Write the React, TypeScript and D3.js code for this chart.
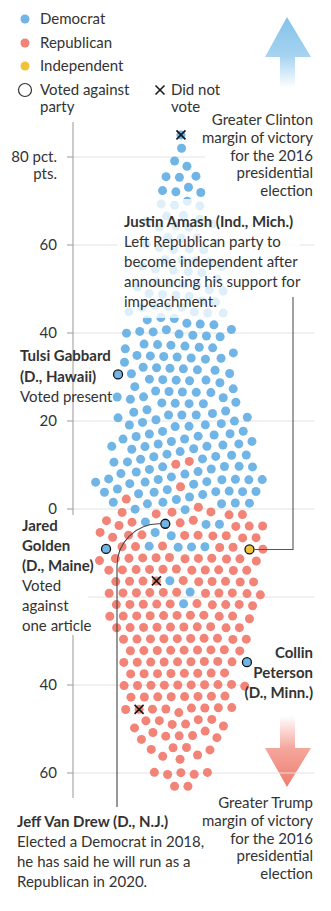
import React, { useMemo } from "react";
import * as d3 from "d3";

// ---- Data (margin in pct. pts.; + = Clinton, - = Trump) ----
const demLevels = [82, 79, 77.5, 75.5, 73, 71.7, 69.5, 65, 60, 55, 50, 45, 40, 35, 30, 25, 20, 15, 10, 5, 2, 0.7, -1.8, -3.5, -8, -16, -20.5];
const demCounts = [1, 1, 1, 3, 1, 3, 4, 8, 9, 10, 12, 12, 13, 15, 15, 16, 17, 18, 18, 21, 6, 6, 4, 3, 4, 2, 1];

const repLevels = [9.8, 7.7, 3.4, -0.7, -2, -5, -10, -15, -20, -25, -30, -35, -40, -45, -50, -55, -60, -63];
const repCounts = [1, 1, 1, 5, 6, 17, 16, 20, 21, 21, 19, 17, 18, 12, 11, 7, 5, 2];

// Named members: party, margin, status, and which side of the swarm they sit on
const specialNames = ["Serrano", "Gabbard", "Golden", "VanDrew", "Peterson", "Amash", "Hunter", "Shimkus"];
const specialParty = ["D", "D", "D", "D", "D", "I", "R", "R"];
const specialMargin = [85, 31, -8.6, -2.5, -33, -8, -17, -44.5];
const specialStatus = ["absent", "against", "against", "against", "against", "against", "absent", "absent"];
const specialSide = [0, -1, -0.9, 0.1, 1, 0.65, -0.25, -0.6];

const tickValues = [80, 60, 40, 20, 0, -20, -40, -60];
// the -20 label sits under Golden's note in the original
const hiddenTickLabels = [-20];

const COLORS: Record<string, string> = { D: "#70b5e6", R: "#f28377", I: "#f0c23a" };
const FONT = "Lato, 'Noto Sans', sans-serif";
const TXT = "#333";
const FS = 15;

type Node = {
  party: string;
  margin: number;
  status?: string;
  name?: string;
  x: number;
  y: number;
};

const W = 331;
const H = 911;
const CX = 181;
const R = 4.5;

export default function App() {
  const y = d3.scaleLinear().domain([80, -60]).range([157, 773]);

  const nodes = useMemo(() => {
    const list: Node[] = [];
    const addGroup = (party: string, level: number, n: number) => {
      const sp = Math.min(13, 172 / n);
      for (let j = 0; j < n; j++) {
        list.push({
          party,
          margin: level,
          x: CX + (j - (n - 1) / 2) * sp,
          y: y(level) + (j % 2 ? 3 : -3),
        });
      }
    };
    demLevels.forEach((l, i) => addGroup("D", l, demCounts[i]));
    repLevels.forEach((l, i) => addGroup("R", l, repCounts[i]));
    specialNames.forEach((nm, i) => {
      list.push({
        party: specialParty[i],
        margin: specialMargin[i],
        status: specialStatus[i],
        name: nm,
        x: CX + specialSide[i] * 90,
        y: y(specialMargin[i]),
      });
    });
    const sim = d3
      .forceSimulation(list as any)
      .force("y", d3.forceY((d: any) => y(d.margin)).strength(0.1))
      .force("x", d3.forceX(CX).strength(0.013))
      .force("c", d3.forceCollide(6.7).strength(0.8).iterations(2))
      .stop();
    for (let i = 0; i < 400; i++) sim.tick();
    return list;
  }, []);

  const find = (nm: string) => nodes.find((n) => n.name === nm)!;
  const vd = find("VanDrew");
  const am = find("Amash");
  const rArc = 42;
  const vdX = 117;

  const X = ({ x, y: yy, s = 4.5, w = 1.7 }: { x: number; y: number; s?: number; w?: number }) => (
    <g stroke="#1a1a1a" strokeWidth={w}>
      <line x1={x - s} y1={yy - s} x2={x + s} y2={yy + s} />
      <line x1={x - s} y1={yy + s} x2={x + s} y2={yy - s} />
    </g>
  );

  const lines = (arr: string[], x: number, y0: number, dy: number, anchor: string, boldN = 0, size = FS) =>
    arr.map((t, i) => (
      <text
        key={i}
        x={x}
        y={y0 + i * dy}
        textAnchor={anchor as any}
        fontWeight={i < boldN ? 700 : 400}
        fontSize={size}
        fill={TXT}
        fontFamily={FONT}
      >
        {t}
      </text>
    ));

  return (
    <svg width={W} height={H} style={{ position: "absolute", left: 0, top: 0, background: "#fff" }}>
      <defs>
        <linearGradient id="gUp" x1="0" y1="0" x2="0" y2="1">
          <stop offset="0" stopColor="#84c2ea" />
          <stop offset="0.55" stopColor="#a6d3f1" />
          <stop offset="1" stopColor="#ffffff" />
        </linearGradient>
        <linearGradient id="gDown" x1="0" y1="0" x2="0" y2="1">
          <stop offset="0" stopColor="#ffffff" />
          <stop offset="0.45" stopColor="#f5a79d" />
          <stop offset="1" stopColor="#ef7c6d" />
        </linearGradient>
      </defs>

      {/* Legend */}
      <g fontFamily={FONT} fontSize={FS} fill={TXT}>
        <circle cx={25} cy={19} r={4.5} fill={COLORS.D} />
        <text x={40} y={24}>Democrat</text>
        <circle cx={25} cy={43} r={4.5} fill={COLORS.R} />
        <text x={40} y={48}>Republican</text>
        <circle cx={25} cy={66} r={4.5} fill={COLORS.I} />
        <text x={40} y={71}>Independent</text>
        <circle cx={25} cy={90} r={6.5} fill="none" stroke="#333" strokeWidth={1.2} />
        <text x={40} y={95}>Voted against</text>
        <text x={40} y={112}>party</text>
        <X x={160} y={90} s={4.5} w={1.6} />
        <text x={171} y={95}>Did not</text>
        <text x={171} y={112}>vote</text>
      </g>

      {/* Arrows */}
      <path d="M287,17 L311,57 L295,57 L295,88 L280,88 L280,57 L265,57 Z" fill="url(#gUp)" />
      <path d="M280,716 L295,716 L295,748 L311,748 L287,787 L265,748 L280,748 Z" fill="url(#gDown)" />

      {/* Grid + axis */}
      {tickValues.map((t) => (
        <g key={t}>
          <line x1={73} x2={315} y1={y(t)} y2={y(t)} stroke="#e2e2e2" strokeWidth={1} />
          <line x1={67} x2={73} y1={y(t)} y2={y(t)} stroke="#999" strokeWidth={1} />
          {!hiddenTickLabels.includes(t) && (
            <text x={57} y={y(t) + 5} textAnchor="end" fontFamily={FONT} fontSize={FS} fill={TXT}>
              {t === 80 ? "80 pct." : String(Math.abs(t))}
            </text>
          )}
        </g>
      ))}
      <text x={57} y={179} textAnchor="end" fontFamily={FONT} fontSize={FS} fill={TXT}>
        pts.
      </text>
      <line x1={73} x2={73} y1={122} y2={798} stroke="#999" strokeWidth={1} />

      {/* Text boxes covering gridlines */}
      <rect x={205} y={110} width={113} height={90} fill="#fff" />
      <rect x={18} y={515} width={70} height={120} fill="#fff" />
      <rect x={246} y={643} width={72} height={57} fill="#fff" />

      {/* Dots */}
      {nodes.map((n, i) => (
        <circle
          key={i}
          cx={n.x}
          cy={n.y}
          r={R}
          fill={COLORS[n.party]}
          stroke={n.status === "against" ? "#111" : "none"}
          strokeWidth={1.3}
        />
      ))}
      {nodes
        .filter((n) => n.status === "absent")
        .map((n, i) => (
          <X key={"x" + i} x={n.x} y={n.y} />
        ))}

      {/* Amash box fades dots behind */}
      <rect x={117} y={199} width={183} height={119} fill="#fff" opacity={0.78} />

      {/* Leader lines */}
      <path
        d={`M${vdX},807 V${vd.y + rArc} A${rArc},${rArc} 0 0 1 ${vdX + rArc},${vd.y} H${vd.x - R - 0.5}`}
        fill="none"
        stroke="#444"
        strokeWidth={1.1}
      />
      <path d={`M${am.x + R + 0.5},${am.y} H293 V297`} fill="none" stroke="#555" strokeWidth={1.1} />

      {/* Annotations */}
      {lines(["Greater Clinton", "margin of victory", "for the 2016", "presidential", "election"], 313, 125, 17.8, "end")}
      {lines(
        ["Justin Amash (Ind., Mich.)", "Left Republican party to", "become independent after", "announcing his support for", "impeachment."],
        124,
        227,
        20,
        "start",
        1
      )}
      {lines(["Tulsi Gabbard", "(D., Hawaii)", "Voted present"], 20, 361, 20.5, "start", 2)}
      {lines(["Jared", "Golden", "(D., Maine)", "Voted", "against", "one article"], 22, 531, 20, "start", 3)}
      {lines(["Collin", "Peterson", "(D., Minn.)"], 313, 658, 20, "end", 3)}
      {lines(["Jeff Van Drew (D., N.J.)", "Elected a Democrat in 2018,", "he has said he will run as a", "Republican in 2020."], 17, 827, 20, "start", 1)}
      {lines(["Greater Trump", "margin of victory", "for the 2016", "presidential", "election"], 313, 808, 17.8, "end")}
    </svg>
  );
}
